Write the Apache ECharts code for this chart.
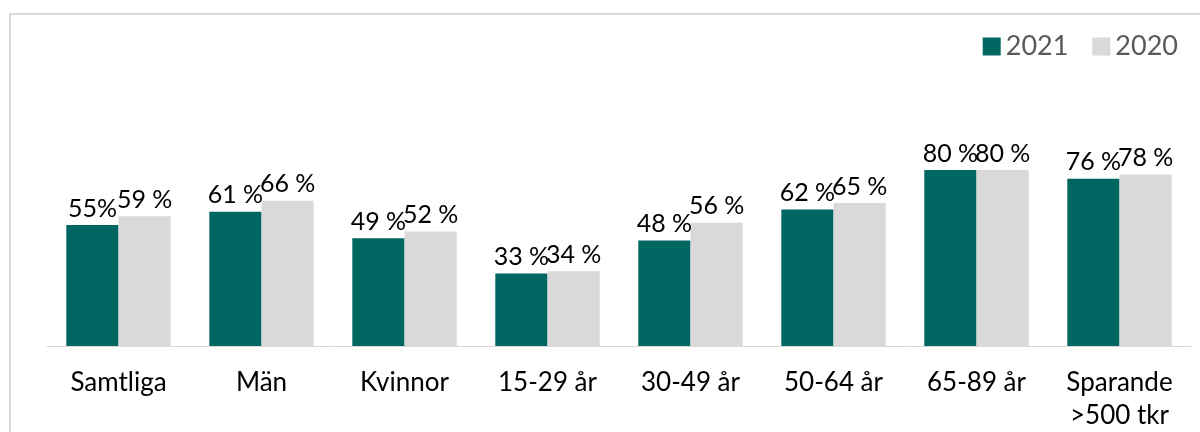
<!DOCTYPE html>
<html>
<head>
<meta charset="utf-8">
<script src="https://cdn.jsdelivr.net/npm/echarts@6/dist/echarts.min.js"></script>
<style>
  html, body { margin: 0; padding: 0; background: #fff; }
  #chart { width: 1200px; height: 432px; }
</style>
</head>
<body>
<div id="chart"></div>
<script>
// data
const categories = ['Samtliga', 'Män', 'Kvinnor', '15-29 år', '30-49 år', '50-64 år', '65-89 år', 'Sparande\n>500 tkr'];
const values2021 = [55, 61, 49, 33, 48, 62, 80, 76];
const values2020 = [59, 66, 52, 34, 56, 65, 80, 78];
// first label is written without the space in the original
const labels2021 = ['55%', '61 %', '49 %', '33 %', '48 %', '62 %', '80 %', '76 %'];
const labels2020 = ['59 %', '66 %', '52 %', '34 %', '56 %', '65 %', '80 %', '78 %'];

let chart = echarts.init(document.getElementById('chart'));

const labelStyle = {
  show: true,
  position: 'top',
  distance: 4,
  color: '#000',
  fontFamily: 'Lato',
  fontSize: 25
};

chart.setOption({
  animation: false,
  graphic: [{
    type: 'rect',
    shape: { x: 10, y: 14, width: 1200, height: 430 },
    style: { fill: 'none', stroke: '#d9d9d9', lineWidth: 2 },
    silent: true
  }],
  legend: {
    right: 17,
    top: 28,
    itemWidth: 18,
    itemHeight: 18,
    itemGap: 24,
    icon: 'rect',
    textStyle: { color: '#595959', fontFamily: 'Lato', fontSize: 27 },
    data: ['2021', '2020']
  },
  grid: {
    left: 47,
    right: 9,
    top: 126,
    bottom: 85
  },
  xAxis: {
    type: 'category',
    data: categories,
    axisLine: { lineStyle: { color: '#d9d9d9', width: 1 } },
    axisTick: { show: false },
    axisLabel: {
      interval: 0,
      color: '#000',
      fontFamily: 'Lato',
      fontSize: 26,
      margin: 20,
      lineHeight: 33
    }
  },
  yAxis: {
    type: 'value',
    min: 0,
    max: 100,
    show: false,
    splitLine: { show: false }
  },
  series: [
    {
      name: '2021',
      type: 'bar',
      data: values2021,
      barGap: '0%',
      barCategoryGap: '27%',
      itemStyle: { color: '#006661' },
      label: Object.assign({}, labelStyle, {
        formatter: function (p) { return labels2021[p.dataIndex]; }
      })
    },
    {
      name: '2020',
      type: 'bar',
      data: values2020,
      itemStyle: { color: '#d9d9d9' },
      label: Object.assign({}, labelStyle, {
        formatter: function (p) { return labels2020[p.dataIndex]; }
      })
    }
  ]
});
</script>
</body>
</html>
